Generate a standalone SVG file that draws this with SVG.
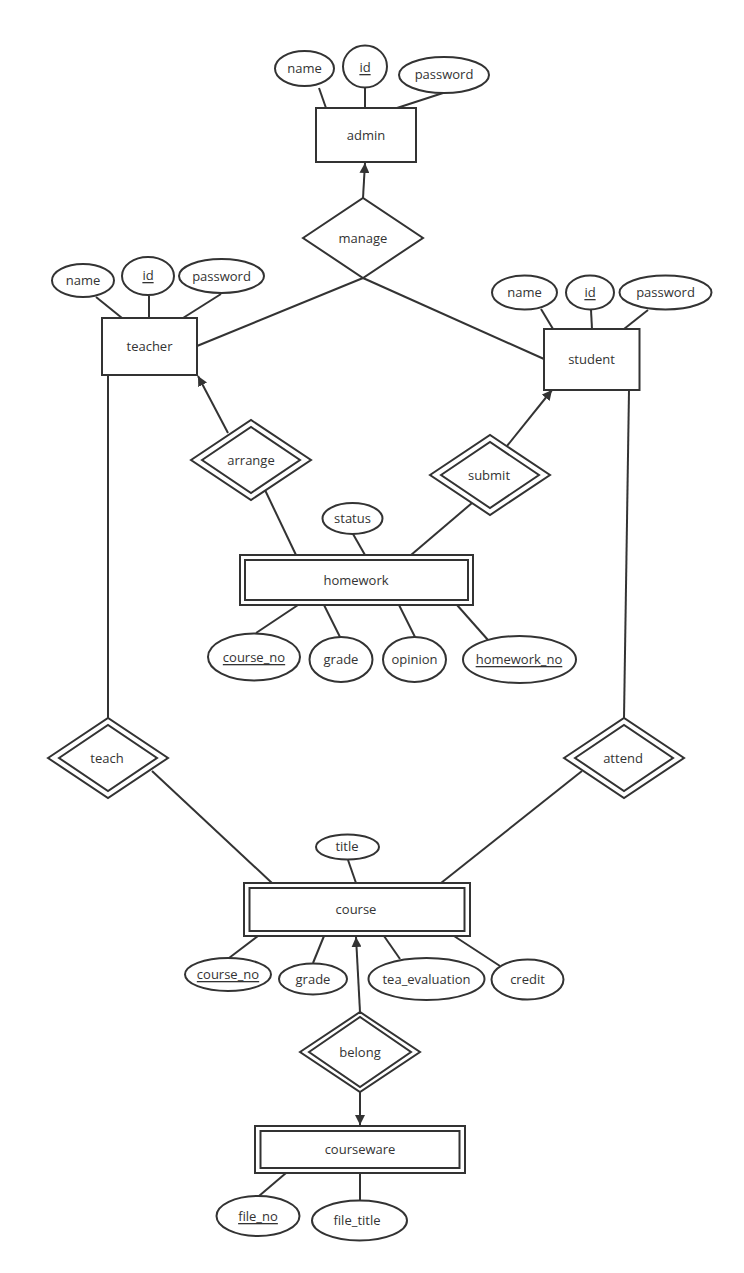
<svg xmlns="http://www.w3.org/2000/svg" width="744" height="1273" viewBox="0 0 744 1273">
<defs>
<marker id="arr" viewBox="0 0 10 10" refX="10" refY="5" markerWidth="10" markerHeight="10" markerUnits="userSpaceOnUse" orient="auto">
<path d="M0,0 L10,5 L0,10 Z" fill="#333"/>
</marker>
</defs>
<style>
rect,ellipse,polygon{fill:#fff;stroke:#333;stroke-width:2}
rect.bg{fill:#fff;stroke:none}
line{stroke:#333;stroke-width:2}
text{font-family:"Open Sans","Noto Sans",sans-serif;font-size:13px;fill:#333;text-anchor:middle;dominant-baseline:central}
.k{text-decoration:underline}
</style>
<rect class="bg" width="744" height="1273"/>
<g id="connectors">
<line x1="319" y1="88" x2="326" y2="108"/>
<line x1="365" y1="88" x2="365" y2="108"/>
<line x1="443" y1="93" x2="397" y2="108"/>
<line x1="363" y1="198" x2="365" y2="163" marker-end="url(#arr)"/>
<line x1="197" y1="346" x2="363" y2="278"/>
<line x1="363" y1="278" x2="544" y2="359"/>
<line x1="96" y1="297" x2="122" y2="318"/>
<line x1="149" y1="296" x2="149" y2="318"/>
<line x1="221" y1="294" x2="183" y2="318"/>
<line x1="541" y1="309" x2="553" y2="329"/>
<line x1="591" y1="310" x2="592" y2="329"/>
<line x1="648" y1="310" x2="624" y2="329"/>
<line x1="228" y1="433" x2="198" y2="376" marker-end="url(#arr)"/>
<line x1="265" y1="490" x2="296" y2="555"/>
<line x1="507" y1="446" x2="552" y2="390" marker-end="url(#arr)"/>
<line x1="472" y1="503" x2="411" y2="555"/>
<line x1="353" y1="534" x2="365" y2="555"/>
<line x1="298" y1="605" x2="256" y2="633"/>
<line x1="324" y1="605" x2="340" y2="637"/>
<line x1="399" y1="605" x2="415" y2="637"/>
<line x1="457" y1="605" x2="488" y2="640"/>
<line x1="108" y1="375" x2="108" y2="718"/>
<line x1="629" y1="390" x2="624" y2="718"/>
<line x1="152" y1="771" x2="272" y2="883"/>
<line x1="582" y1="771" x2="441" y2="883"/>
<line x1="348" y1="860" x2="356" y2="883"/>
<line x1="258" y1="936" x2="229" y2="958"/>
<line x1="324" y1="936" x2="313" y2="963"/>
<line x1="384" y1="936" x2="400" y2="959"/>
<line x1="454" y1="936" x2="500" y2="966"/>
<line x1="360" y1="1012" x2="356" y2="937" marker-end="url(#arr)"/>
<line x1="360" y1="1092" x2="360" y2="1125" marker-end="url(#arr)"/>
<line x1="286" y1="1173" x2="259" y2="1196"/>
<line x1="360" y1="1173" x2="360" y2="1200"/>
</g>
<g id="admin"><rect x="316" y="108" width="100" height="54"/><text x="366" y="135">admin</text></g>
<g id="admin_name"><ellipse cx="304.5" cy="68.5" rx="29.5" ry="17.5"/><text x="304.5" y="68">name</text></g>
<g id="admin_id"><ellipse cx="365" cy="66.5" rx="22" ry="21"/><text class="k" x="365" y="67">id</text></g>
<g id="admin_password"><ellipse cx="444" cy="75" rx="45" ry="18"/><text x="444" y="74">password</text></g>
<g id="manage"><polygon points="303,238 363,198 423,238 363,278"/><text x="363" y="238">manage</text></g>
<g id="teacher"><rect x="102" y="318" width="95" height="57"/><text x="149.5" y="346">teacher</text></g>
<g id="teacher_name"><ellipse cx="83" cy="280.5" rx="31" ry="16.5"/><text x="83" y="280">name</text></g>
<g id="teacher_id"><ellipse cx="148" cy="276" rx="26" ry="19"/><text class="k" x="148" y="275">id</text></g>
<g id="teacher_password"><ellipse cx="221.5" cy="276" rx="42.5" ry="17"/><text x="221.5" y="276">password</text></g>
<g id="student"><rect x="544" y="329" width="95.5" height="61"/><text x="591.5" y="359">student</text></g>
<g id="student_name"><ellipse cx="524.5" cy="292.5" rx="32.5" ry="17"/><text x="524.5" y="292">name</text></g>
<g id="student_id"><ellipse cx="590" cy="292.5" rx="24" ry="17"/><text class="k" x="590" y="292">id</text></g>
<g id="student_password"><ellipse cx="665.5" cy="292.5" rx="46" ry="17"/><text x="665.5" y="292">password</text></g>
<g id="arrange"><polygon points="191,460 251,420 311,460 251,500"/><polygon points="202,460 251,427 300,460 251,493"/><text x="251" y="460">arrange</text></g>
<g id="submit"><polygon points="430,475 490,435 550,475 490,515"/><polygon points="441,475 490,442 539,475 490,508"/><text x="489" y="475">submit</text></g>
<g id="homework"><rect x="240" y="555" width="233" height="50"/><rect x="245" y="560" width="223" height="40"/><text x="356" y="580">homework</text></g>
<g id="homework_status"><ellipse cx="352.5" cy="518.5" rx="30" ry="15.5"/><text x="352.5" y="518">status</text></g>
<g id="homework_course_no"><ellipse cx="254" cy="657" rx="46" ry="23.5"/><text class="k" x="254" y="657">course_no</text></g>
<g id="homework_grade"><ellipse cx="341" cy="659.5" rx="31.5" ry="22.5"/><text x="341" y="659">grade</text></g>
<g id="homework_opinion"><ellipse cx="414.5" cy="659.5" rx="31.5" ry="22.5"/><text x="414.5" y="659">opinion</text></g>
<g id="homework_homework_no"><ellipse cx="519.5" cy="659.5" rx="56.5" ry="23.5"/><text class="k" x="519" y="659">homework_no</text></g>
<g id="teach"><polygon points="48,758 108,718 168,758 108,798"/><polygon points="59,758 108,725 157,758 108,791"/><text x="107" y="758">teach</text></g>
<g id="attend"><polygon points="564,758 624,718 684,758 624,798"/><polygon points="575,758 624,725 673,758 624,791"/><text x="623" y="758">attend</text></g>
<g id="course"><rect x="244" y="883" width="226" height="53"/><rect x="249.5" y="888" width="215" height="43"/><text x="356" y="909">course</text></g>
<g id="course_title"><ellipse cx="347.5" cy="847" rx="31.5" ry="12.5"/><text x="347" y="846">title</text></g>
<g id="course_course_no"><ellipse cx="228" cy="974.5" rx="43" ry="16.5"/><text class="k" x="228" y="974">course_no</text></g>
<g id="course_grade"><ellipse cx="313" cy="979" rx="34" ry="15.5"/><text x="313" y="979">grade</text></g>
<g id="course_tea_evaluation"><ellipse cx="426.5" cy="979" rx="58" ry="21"/><text x="426.5" y="979">tea_evaluation</text></g>
<g id="course_credit"><ellipse cx="527.5" cy="979.5" rx="36" ry="20"/><text x="527.5" y="979">credit</text></g>
<g id="belong"><polygon points="300,1052 360,1012 420,1052 360,1092"/><polygon points="309,1052 360,1017 411,1052 360,1087"/><text x="360" y="1052">belong</text></g>
<g id="courseware"><rect x="255" y="1126" width="210" height="47"/><rect x="260.5" y="1131" width="199" height="37"/><text x="360" y="1149">courseware</text></g>
<g id="courseware_file_no"><ellipse cx="258" cy="1216" rx="41.5" ry="20"/><text class="k" x="258" y="1216">file_no</text></g>
<g id="courseware_file_title"><ellipse cx="359.5" cy="1220.5" rx="47.5" ry="20"/><text x="357" y="1220">file_title</text></g>
</svg>
